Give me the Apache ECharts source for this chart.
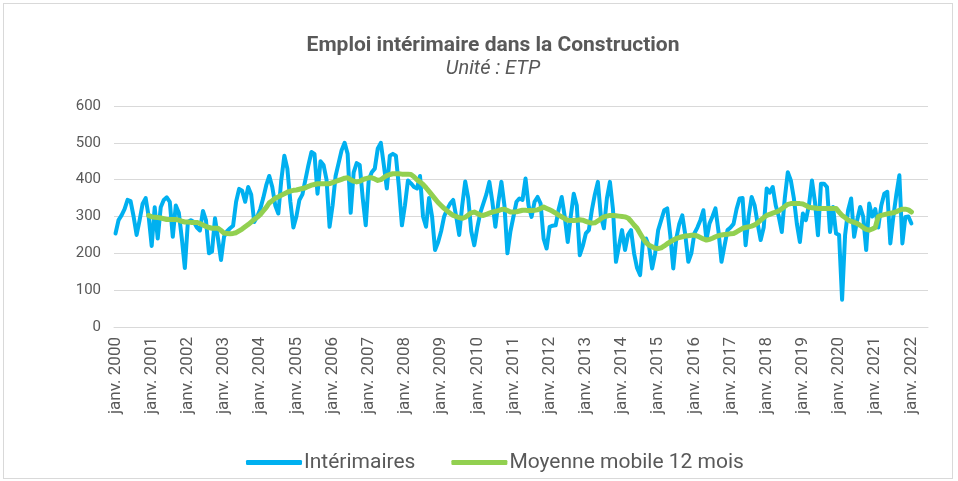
<!DOCTYPE html>
<html>
<head>
<meta charset="utf-8">
<script src="https://cdn.jsdelivr.net/npm/echarts@6/dist/echarts.min.js"></script>
<style>
  html, body { margin: 0; padding: 0; background: #fff; }
  #frame { position: absolute; left: 3px; top: 3px; width: 948px; height: 474px; border: 1px solid #d9d9d9; }
  #chart { position: absolute; left: 0; top: 0; width: 958px; height: 481px; }
</style>
</head>
<body>
<div id="frame"></div>
<div id="chart"></div>
<script>
// mois affichés sur l'axe (janv. 2000 -> juin 2022)
const moisAbr = ['janv.', 'févr.', 'mars', 'avr.', 'mai', 'juin', 'juil.', 'août', 'sept.', 'oct.', 'nov.', 'déc.']
const annees = [2000, 2001, 2002, 2003, 2004, 2005, 2006, 2007, 2008, 2009, 2010,
  2011, 2012, 2013, 2014, 2015, 2016, 2017, 2018, 2019, 2020, 2021, 2022]
const nbMoisAxe = 270

// Intérimaires (ETP), janv. 2000 -> janv. 2022
const interimaires = [
  254, 290, 303, 320, 345, 342, 300, 250, 290, 335, 350, 300,
  220, 325, 240, 325, 345, 352, 340, 245, 330, 310, 240, 160,
  285, 290, 285, 270, 262, 315, 290, 200, 205, 295, 240, 182,
  245, 260, 268, 275, 340, 375, 370, 340, 380, 360, 285, 300,
  320, 350, 385, 410, 380, 330, 308, 400, 465, 430, 340, 270,
  300, 345, 360, 400, 440, 475, 470, 362, 450, 440, 400, 272,
  330, 410, 445, 480, 500, 470, 310, 420, 445, 440, 350, 276,
  400, 420, 430, 485, 500, 440, 376, 465, 470, 465, 380, 276,
  330, 398, 390, 380, 376, 410, 300, 272, 350, 300, 209, 230,
  260, 300, 320, 335, 345, 300, 250, 330, 395, 350, 260, 222,
  270, 310, 335, 360, 394, 340, 272, 340, 394, 330, 200, 260,
  300, 340, 349, 345, 403, 330, 299, 340, 353, 335, 240, 213,
  272, 275, 276, 320, 353, 300, 231, 300, 362, 330, 195, 220,
  254, 263, 317, 360, 394, 300, 268, 350, 394, 320, 177, 220,
  263, 209, 250, 263, 200, 160, 141, 236, 240, 218, 159, 200,
  263, 290, 317, 322, 250, 159, 240, 280, 303, 250, 177, 200,
  254, 270, 290, 317, 236, 280, 300, 322, 260, 177, 220, 263,
  270, 280, 320, 349, 350, 222, 300, 353, 330, 280, 236, 270,
  376, 365, 380, 330, 300, 258, 350, 420, 398, 350, 280, 231,
  308, 290, 330, 398, 340, 249, 389, 389, 380, 258, 326, 254,
  250, 74, 250, 317, 349, 245, 290, 326, 300, 209, 335, 300,
  320, 270, 330, 362, 367, 227, 300, 360, 412, 227, 299, 300,
  281
]

// Moyenne mobile 12 mois (commence en déc. 2000)
const moyenneMobile = [
  null, null, null, null, null, null, null, null, null, null, null, 303,
  299, 298, 297, 296, 294, 292, 292, 292, 292, 290, 287, 285,
  285, 284, 284, 284, 281, 277, 273, 270, 268, 268, 268, 262,
  255, 254, 253, 254, 256, 261, 266, 272, 278, 285, 292, 298,
  305, 315, 325, 337, 343, 350, 353, 358, 362, 366, 369, 371,
  372, 374, 376, 378, 382, 385, 387, 389, 389, 389, 389, 389,
  392, 395, 398, 401, 404, 405, 400, 396, 394, 396, 400, 403,
  405, 405, 402, 398, 400, 406, 411, 414, 416, 416, 416, 415,
  415, 415, 414, 408, 400, 394, 387, 378, 368, 358, 348, 338,
  330, 322, 315, 309, 303, 300, 297, 295, 298, 304, 310, 312,
  308, 304, 303, 306, 309, 312, 314, 316, 319, 320, 316, 312,
  312, 313, 315, 317, 317, 316, 316, 317, 318, 322, 326, 322,
  318, 314, 309, 304, 299, 294, 290, 289, 289, 290, 291, 290,
  287, 284, 282, 283, 288, 294, 299, 301, 303, 303, 302, 301,
  300, 299, 296, 287, 277, 268, 254, 240, 229, 222, 218, 214,
  213, 215, 220, 226, 231, 236, 240, 243, 245, 247, 248, 249,
  249, 247, 243, 239, 236, 238, 241, 245, 248, 250, 251, 252,
  253, 254, 258, 263, 268, 270, 272, 274, 277, 283, 290, 297,
  303, 306, 309, 312, 315, 321, 327, 333, 335, 335, 335, 335,
  334, 330, 325, 324, 323, 322, 322, 322, 322, 322, 322, 322,
  312, 303, 297, 290, 287, 284, 281, 276, 270, 265, 263, 266,
  270, 300, 303, 305, 307, 309, 310, 313, 317, 320, 320, 318,
  312
]

const categories = []
for (let i = 0; i < nbMoisAxe; i++) {
  categories.push(moisAbr[i % 12] + ' ' + annees[Math.floor(i / 12)])
}

const chart = echarts.init(document.getElementById('chart'), null, { renderer: 'canvas' })

const gris = '#595959'

chart.setOption({
  animation: false,
  textStyle: { fontFamily: 'Roboto' },
  title: {
    text: 'Emploi intérimaire dans la Construction',
    subtext: 'Unité : ETP',
    left: 488,
    textAlign: 'center',
    top: 30,
    itemGap: 3,
    textStyle: { fontSize: 21, fontWeight: 'bold', color: gris, fontFamily: 'Roboto' },
    subtextStyle: { fontSize: 20, fontStyle: 'italic', color: gris, fontFamily: 'Roboto' }
  },
  legend: {
    top: 447,
    left: 241,
    icon: 'roundRect',
    itemWidth: 56,
    itemHeight: 5,
    itemGap: 36,
    textStyle: { fontSize: 21, color: gris, fontFamily: 'Roboto', padding: [0, 0, 0, -3] },
    data: ['Intérimaires', 'Moyenne mobile 12 mois']
  },
  grid: { left: 114, right: 30, top: 106, bottom: 154, containLabel: false },
  xAxis: {
    type: 'category',
    data: categories,
    boundaryGap: true,
    axisLine: { lineStyle: { color: '#d9d9d9', width: 1 } },
    axisTick: { show: false },
    axisLabel: {
      interval: (idx) => idx % 12 === 0,
      rotate: 90,
      fontSize: 17,
      color: gris,
      margin: 10
    }
  },
  yAxis: {
    type: 'value',
    min: 0,
    max: 600,
    interval: 100,
    axisLabel: { fontSize: 15, color: gris, margin: 13 },
    splitLine: { lineStyle: { color: '#d9d9d9', width: 1 } },
    axisLine: { show: false },
    axisTick: { show: false }
  },
  series: [
    {
      name: 'Intérimaires',
      type: 'line',
      data: interimaires,
      showSymbol: false,
      symbol: 'none',
      lineStyle: { color: '#00b0f0', width: 4, cap: 'round', join: 'round' },
      itemStyle: { color: '#00b0f0' }
    },
    {
      name: 'Moyenne mobile 12 mois',
      type: 'line',
      data: moyenneMobile,
      showSymbol: false,
      symbol: 'none',
      lineStyle: { color: '#92d050', width: 5, cap: 'round', join: 'round' },
      itemStyle: { color: '#92d050' }
    }
  ]
})
</script>
</body>
</html>
